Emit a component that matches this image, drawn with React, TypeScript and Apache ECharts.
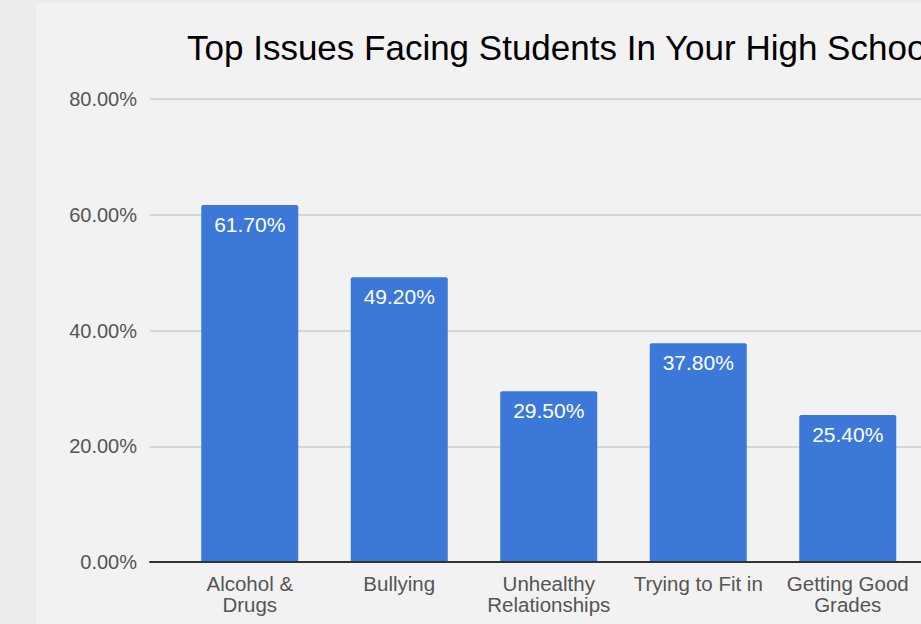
import React, { useEffect, useRef } from "react";
import * as echarts from "echarts";

const categories = [
  "Alcohol &\nDrugs",
  "Bullying",
  "Unhealthy\nRelationships",
  "Trying to Fit in",
  "Getting Good\nGrades",
];
const values = [61.7, 49.2, 29.5, 37.8, 25.4];
const yTicks = { min: 0, max: 80, interval: 20 };
const titleText = "Top Issues Facing Students In Your High School";

const FONT = "'Liberation Sans', Arial, Helvetica, sans-serif";

export default function App() {
  const ref = useRef<HTMLDivElement>(null);
  useEffect(() => {
    if (!ref.current) return;
    const chart = echarts.init(ref.current, undefined, { renderer: "svg" });
    chart.setOption({
      animation: false,
      backgroundColor: "#f2f2f2",
      textStyle: { fontFamily: FONT },
      title: {
        text: titleText,
        left: 187,
        top: 30,
        padding: 0,
        textStyle: { fontSize: 35, fontWeight: "normal", color: "#000", fontFamily: FONT },
      },
      graphic: [
        { type: "rect", left: 0, top: 0, shape: { width: 36, height: 624 }, style: { fill: "#ebebeb" }, z: -1 },
        { type: "rect", left: 0, top: 0, shape: { width: 1200, height: 3 }, style: { fill: "#ebebeb" }, z: -1 },
      ],
      grid: [
        { left: 150, top: 99, width: 1000, height: 463 },
        { left: 175, top: 99, width: 747.5, height: 463 },
      ],
      xAxis: [
        {
          type: "value",
          gridIndex: 0,
          min: 0,
          max: 1,
          axisLine: { show: true, onZero: false, lineStyle: { color: "#333", width: 2 } },
          axisTick: { show: false },
          axisLabel: { show: false },
          splitLine: { show: false },
          z: 10,
        },
        {
          type: "category",
          gridIndex: 1,
          data: categories,
          axisLine: { show: false },
          axisTick: { show: false },
          axisLabel: {
            interval: 0,
            color: "#555",
            fontSize: 20.5,
            lineHeight: 21,
            margin: 11,
            fontFamily: FONT,
          },
        },
      ],
      yAxis: [
        {
          type: "value",
          gridIndex: 0,
          min: yTicks.min,
          max: yTicks.max,
          interval: yTicks.interval,
          axisLine: { show: false },
          axisTick: { show: false },
          axisLabel: {
            color: "#555",
            fontSize: 20,
            margin: 13,
            fontFamily: FONT,
            formatter: (v: number) => v.toFixed(2) + "%",
          },
          splitLine: { lineStyle: { color: "#cccccc", width: 1.5 } },
        },
        {
          type: "value",
          gridIndex: 1,
          min: yTicks.min,
          max: yTicks.max,
          interval: yTicks.interval,
          show: false,
          splitLine: { show: false },
        },
      ],
      series: [
        {
          type: "bar",
          xAxisIndex: 1,
          yAxisIndex: 1,
          data: values,
          barWidth: 97,
          itemStyle: { color: "#3c78d8", borderRadius: [2, 2, 0, 0] },
          label: {
            show: true,
            position: "insideTop",
            distance: 9,
            color: "#fff",
            fontSize: 21,
            fontFamily: FONT,
            formatter: (p: any) => p.value.toFixed(2) + "%",
          },
        },
      ],
    });
    return () => chart.dispose();
  }, []);
  return (
    <div style={{ position: "fixed", left: 0, top: 0, width: 921, height: 624, overflow: "hidden" }}>
      <div ref={ref} style={{ width: 1200, height: 624 }} />
    </div>
  );
}
